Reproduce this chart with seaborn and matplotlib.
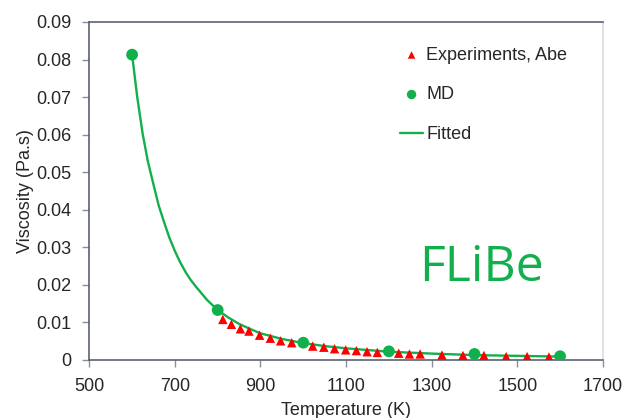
import matplotlib
matplotlib.use("Agg")
import matplotlib.pyplot as plt
import seaborn as sns
import pandas as pd

# Experimental data (Abe)
exp_T = [812, 832, 853, 873, 898, 923, 947, 973, 1022, 1048, 1073, 1099, 1124,
         1149, 1173, 1223, 1248, 1273, 1324, 1373, 1422, 1474, 1523, 1574]
exp_visc = [0.0108, 0.0095, 0.0083, 0.0077, 0.0066, 0.0058, 0.0051, 0.0046, 0.0037,
            0.0034, 0.0030, 0.0027, 0.0025, 0.0022, 0.0020, 0.0018, 0.0016, 0.0016,
            0.0013, 0.0012, 0.0012, 0.0009, 0.0009, 0.0008]

# MD data
md_T = [600, 800, 1000, 1200, 1400, 1600]
md_visc = [0.0813, 0.0133, 0.0046, 0.0023, 0.0016, 0.0010]

# Fitted curve
fit_T = [600, 612, 625, 637, 650, 662, 675, 687, 700, 712, 725, 737, 750, 775, 800,
         825, 850, 875, 900, 950, 1000, 1050, 1100, 1200, 1300, 1400, 1500, 1600]
fit_visc = [0.0813, 0.0700, 0.0600, 0.0528, 0.0467, 0.0412, 0.0366, 0.0326, 0.0290,
            0.0261, 0.0234, 0.0213, 0.0194, 0.0160, 0.0133, 0.0113, 0.0096, 0.0083,
            0.0071, 0.0056, 0.0045, 0.0037, 0.0031, 0.0022, 0.0017, 0.0013, 0.0011, 0.0009]

x_ticks = [500, 700, 900, 1100, 1300, 1500, 1700]
y_ticks = [0, 0.01, 0.02, 0.03, 0.04, 0.05, 0.06, 0.07, 0.08, 0.09]
y_tick_labels = ["0", "0.01", "0.02", "0.03", "0.04", "0.05", "0.06", "0.07", "0.08", "0.09"]

sns.set_style("white")
plt.rcParams["font.family"] = ["Liberation Sans", "DejaVu Sans"]

GREEN = "#12b04c"
RED = "#ff0000"
SPINE = "#5a6270"
FS = 13

fig = plt.figure(figsize=(6.28, 4.18), dpi=100)
ax = fig.add_axes([0.1422, 0.1388, 0.9600 - 0.1422, 0.9474 - 0.1388])

df_fit = pd.DataFrame({"T": fit_T, "V": fit_visc})
df_md = pd.DataFrame({"T": md_T, "V": md_visc})
df_exp = pd.DataFrame({"T": exp_T, "V": exp_visc})

sns.lineplot(data=df_fit, x="T", y="V", ax=ax, color=GREEN, linewidth=1.7,
             label="Fitted", zorder=2)
sns.scatterplot(data=df_exp, x="T", y="V", ax=ax, color=RED, marker="^", s=46,
                edgecolor="none", label="Experiments, Abe", zorder=3)
sns.scatterplot(data=df_md, x="T", y="V", ax=ax, color=GREEN, marker="o", s=72,
                edgecolor="none", label="MD", zorder=4)

ax.set_xlim(500, 1700)
ax.set_ylim(0, 0.09)
ax.set_xticks(x_ticks)
ax.set_yticks(y_ticks)
ax.set_yticklabels(y_tick_labels)
ax.set_xlabel("Temperature (K)", fontsize=FS, labelpad=5)
ax.set_ylabel("Viscosity (Pa.s)", fontsize=FS)
ax.yaxis.set_label_coords(-0.108, 0.5)
ax.tick_params(axis="both", labelsize=FS, length=5, width=1, color="#8a8f99",
               direction="out", left=True, bottom=True)
ax.tick_params(axis="y", pad=8)
ax.tick_params(axis="x", pad=8)

for side in ["left", "bottom", "top"]:
    ax.spines[side].set_color(SPINE)
    ax.spines[side].set_linewidth(1.2)
ax.spines["right"].set_color("#dcdce4")
ax.spines["right"].set_linewidth(1.2)

handles, labels = ax.get_legend_handles_labels()
order = [labels.index("Experiments, Abe"), labels.index("MD"), labels.index("Fitted")]
leg = ax.legend([handles[i] for i in order], [labels[i] for i in order],
                loc="upper left", bbox_to_anchor=(0.573, 0.975), frameon=False,
                fontsize=FS, labelspacing=1.25, handlelength=1.3, handletextpad=0.15,
                markerscale=0.8)

ax.text(0.764, 0.234, "FLiBe", transform=ax.transAxes, fontsize=36, color=GREEN,
        family=["Open Sans", "DejaVu Sans"], ha="center", va="baseline")

fig.savefig("out.png", dpi=100)
